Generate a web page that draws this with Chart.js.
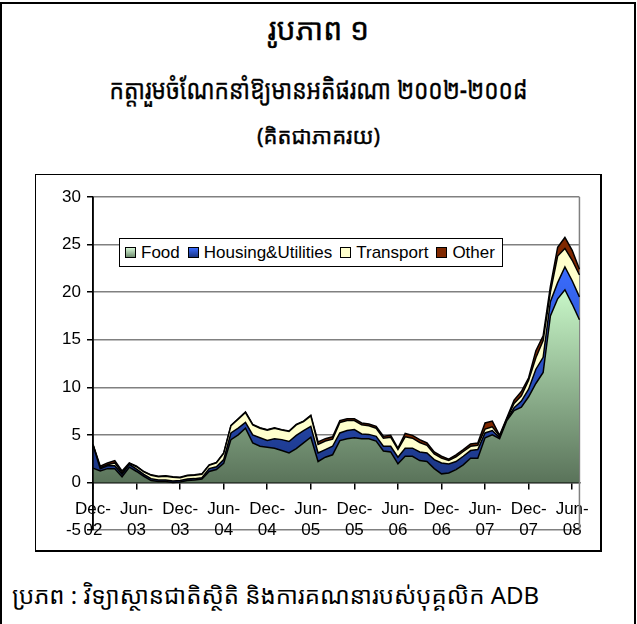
<!DOCTYPE html>
<html>
<head>
<meta charset="utf-8">
<script src="https://cdn.jsdelivr.net/npm/chart.js@4/dist/chart.umd.min.js"></script>
<style>
  html, body { margin: 0; padding: 0; background: #fff; }
  body { width: 637px; height: 624px; position: relative; overflow: hidden; }
  .frame { position: absolute; left: 0; top: 2px; width: 632px; height: 700px; border: 2px solid #000; }
  .khmer { position: absolute; left: 0; width: 637px; text-align: center; white-space: nowrap; color: #000;
           font-family: "Noto Sans Khmer", "Khmer OS System", "Khmer OS", "Noto Serif Khmer", "DejaVu Sans", sans-serif;
           -webkit-text-stroke: 0.4px #000; }
  #t1 { top: 8px; font-size: 30px; }
  #t2 { top: 70px; font-size: 27px; transform: scaleX(0.84); }
  #t3 { top: 120px; font-size: 22px; }
  #src { top: 578px; left: 12px; width: auto; text-align: left; font-size: 24px; -webkit-text-stroke: 0; }
  .box { position: absolute; left: 35px; top: 174px; width: 564px; height: 375px;
         border: 1px solid #000; border-right-width: 2px; border-bottom-width: 2px; }
  #chart { position: absolute; left: 36px; top: 175px; }
  #legend { position: absolute; left: 119px; top: 238px; width: 384px; height: 29px; box-sizing: border-box;
            border: 1px solid #000; background: #fff; display: flex; align-items: center; padding-left: 5px;
            font: 17px "Liberation Sans", Arial, sans-serif; }
  #legend .sw { width: 9px; height: 9px; border: 1px solid #000; margin-right: 5px; }
  #legend .it { display: flex; align-items: center; margin-right: 8px; }
</style>
</head>
<body>
<div class="frame"></div>
<div class="khmer" id="t1">រូបភាព ១</div>
<div class="khmer" id="t2">កត្តារួមចំណែកនាំឱ្យមានអតិផរណា ២០០២-២០០៨</div>
<div class="khmer" id="t3">(គិតជាភាគរយ)</div>
<div class="box"></div>
<canvas id="chart" width="563" height="374"></canvas>
<div id="legend"></div>
<div class="khmer" id="src">ប្រភព : វិទ្យាស្ថានជាតិស្ថិតិ និងការគណនារបស់បុគ្គលិក ADB</div>

<script>
const categories = [
  'Dec-02',
  'Jan-03','Feb-03','Mar-03','Apr-03','May-03','Jun-03','Jul-03','Aug-03','Sep-03','Oct-03','Nov-03','Dec-03',
  'Jan-04','Feb-04','Mar-04','Apr-04','May-04','Jun-04','Jul-04','Aug-04','Sep-04','Oct-04','Nov-04','Dec-04',
  'Jan-05','Feb-05','Mar-05','Apr-05','May-05','Jun-05','Jul-05','Aug-05','Sep-05','Oct-05','Nov-05','Dec-05',
  'Jan-06','Feb-06','Mar-06','Apr-06','May-06','Jun-06','Jul-06','Aug-06','Sep-06','Oct-06','Nov-06','Dec-06',
  'Jan-07','Feb-07','Mar-07','Apr-07','May-07','Jun-07','Jul-07','Aug-07','Sep-07','Oct-07','Nov-07','Dec-07',
  'Jan-08','Feb-08','Mar-08','Apr-08','May-08','Jun-08','Jul-08'
];

const food = [1.5,1.2,1.45,1.45,0.6,1.6,1.15,0.65,0.2,0.1, 0.1,0.0,0.05,0.2,0.25,0.35,1.15,1.35,2.0,4.5,
  5.0,5.7,4.15,3.8,3.7,3.6,3.35,3.1,3.55,4.15, 4.75,2.2,2.65,2.9,4.4,4.6,4.7,4.6,4.6,4.35,
  3.3,3.2,1.95,2.75,2.75,2.3,2.2,1.45,0.9,1.0, 1.35,1.85,2.55,2.55,4.7,5.0,4.6,6.5,7.55,7.9,
  9.0,10.4,11.55,17.5,19.3,20.25,18.75,17.1];
const housing = [2.4,0.25,0.3,0.3,0.25,0.3,0.25,0.2,0.2,0.15, 0.15,0.15,0.15,0.15,0.15,0.15,0.3,0.3,0.4,0.7,
  0.7,0.6,0.85,0.9,0.7,1.0,1.15,1.2,1.4,1.3, 1.15,0.9,0.8,0.9,0.8,0.85,0.85,0.5,0.45,0.5,
  0.5,0.6,0.7,0.85,0.85,0.9,0.9,0.95,1.15,0.95, 0.85,0.9,0.8,0.9,0.5,0.45,0.1,0.1,0.3,0.65,
  0.8,1.5,1.6,1.5,1.7,2.4,2.45,2.4];
const transport = [0.05,0.1,0.1,0.3,0.15,0.1,0.25,0.25,0.35,0.35, 0.4,0.4,0.3,0.35,0.35,0.35,0.35,0.4,0.65,0.75,
  0.95,1.05,1.05,1.0,1.1,1.1,1.0,1.05,1.1,0.95, 1.1,0.9,0.9,0.75,1.1,1.05,0.95,0.95,0.9,0.85,
  0.85,0.95,0.8,1.2,1.05,1.0,0.8,0.6,0.5,0.35, 0.5,0.5,0.45,0.45,0.4,0.4,0.15,0.1,0.45,0.55,
  0.95,1.2,1.75,1.0,2.8,1.95,2.15,2.3];
const other = [0.05,0.15,0.2,0.25,0.2,0.05,0.05,0.05,0.05,0.05, 0.05,0.05,0.05,0.05,0.05,0.05,0.05,0.05,0.05,0.05,
  0.05,0.05,0.05,0.05,0.05,0.05,0.05,0.05,0.05,0.05, 0.05,0.25,0.25,0.25,0.2,0.2,0.2,0.2,0.2,0.2,
  0.2,0.2,0.15,0.35,0.3,0.3,0.25,0.2,0.2,0.15, 0.2,0.2,0.25,0.25,0.65,0.6,0.1,0.1,0.35,0.45,
  0.25,0.75,0.5,0.6,0.9,1.15,1.05,0.6];

const seriesNames = ['Food', 'Housing&Utilities', 'Transport', 'Other'];
const yTicks = { min: -5, max: 30, step: 5 };

// vertical gradient from value 0 up to the top of the layer
const vGradient = (from, to, topValue) => (context) => {
  const chart = context.chart;
  const area = chart.chartArea;
  if (!area) return to;
  const y = chart.scales.y;
  const g = chart.ctx.createLinearGradient(0, y.getPixelForValue(0), 0, y.getPixelForValue(topValue));
  g.addColorStop(0, from);
  g.addColorStop(1, to);
  return g;
};

const foodTop = Math.max(...food);
const housingTop = Math.max(...food.map((v, i) => v + housing[i]));

const areaStyle = {
  fill: '-1', borderColor: '#000', borderWidth: 1.5, pointRadius: 0, tension: 0
};

const plotFrame = {
  id: 'plotFrame',
  beforeDatasetsDraw(chart) {
    const { ctx, chartArea } = chart;
    ctx.save();
    ctx.strokeStyle = '#808080';
    ctx.lineWidth = 1.5;
    ctx.beginPath();
    ctx.moveTo(chartArea.right, chartArea.top);
    ctx.lineTo(chartArea.right, chartArea.bottom);
    ctx.stroke();
    ctx.restore();
  },
  afterDatasetsDraw(chart) {
    const { ctx, chartArea } = chart;
    ctx.save();
    ctx.strokeStyle = '#000';
    ctx.lineWidth = 1.5;
    ctx.beginPath();
    ctx.moveTo(chartArea.left, chartArea.top);
    ctx.lineTo(chartArea.left, chartArea.bottom);
    ctx.stroke();
    ctx.restore();
  }
};

const chart = new Chart(document.getElementById('chart').getContext('2d'), {
  type: 'line',
  data: {
    labels: categories,
    datasets: [
      { ...areaStyle, label: seriesNames[0], data: food, fill: 'origin',
        backgroundColor: vGradient('#5a735a', '#c8f7c8', foodTop) },
      { ...areaStyle, label: seriesNames[1], data: housing,
        backgroundColor: vGradient('#1a3480', '#3a6cff', housingTop) },
      { ...areaStyle, label: seriesNames[2], data: transport, backgroundColor: '#ffffcc' },
      { ...areaStyle, label: seriesNames[3], data: other, backgroundColor: '#7f2800' }
    ]
  },
  options: {
    responsive: false,
    animation: false,
    layout: { padding: { top: 22, right: 19, bottom: 19, left: 0 } },
    plugins: { legend: { display: false }, tooltip: { enabled: false } },
    scales: {
      x: {
        type: 'category',
        offset: false,
        position: { y: 0 },
        z: 1,
        border: { display: true, color: '#000', width: 1.5 },
        grid: { drawOnChartArea: false, drawTicks: true, tickLength: 6, color: '#000', lineWidth: 1.5 },
        ticks: {
          autoSkip: false, maxRotation: 0, minRotation: 0, padding: 10,
          color: '#000', font: { family: '"Liberation Sans", Arial, sans-serif', size: 17, lineHeight: 1.25 },
          callback(value) {
            const label = this.getLabelForValue(value);
            const parts = label.split('-');
            if (parts[0] !== 'Dec' && parts[0] !== 'Jun') return null;
            return [parts[0] + '-', parts[1]];
          }
        }
      },
      y: {
        stacked: true,
        min: yTicks.min, max: yTicks.max,
        afterFit(scale) { scale.width = 57; },
        border: { display: true, color: '#000', width: 1.5 },
        grid: {
          color: (ctx) => (ctx.tick && ctx.tick.value === 0) ? 'rgba(0,0,0,0)' : '#808080',
          lineWidth: 1.5, tickLength: 6, tickColor: '#000'
        },
        ticks: {
          stepSize: yTicks.step, padding: 6, color: '#000',
          font: { family: '"Liberation Sans", Arial, sans-serif', size: 17 }
        }
      }
    }
  },
  plugins: [plotFrame]
});

// legend overlay built from the dataset labels
const swatches = [
  'linear-gradient(#d6f7d6, #6f8c6f)',
  'linear-gradient(#3a6cff, #1a3480)',
  '#ffffcc',
  '#7f2800'
];
const legend = document.getElementById('legend');
chart.data.datasets.forEach((ds, i) => {
  const it = document.createElement('div');
  it.className = 'it';
  const sw = document.createElement('div');
  sw.className = 'sw';
  sw.style.background = swatches[i];
  const tx = document.createElement('span');
  tx.textContent = ds.label;
  it.appendChild(sw);
  it.appendChild(tx);
  legend.appendChild(it);
});
</script>
</body>
</html>
